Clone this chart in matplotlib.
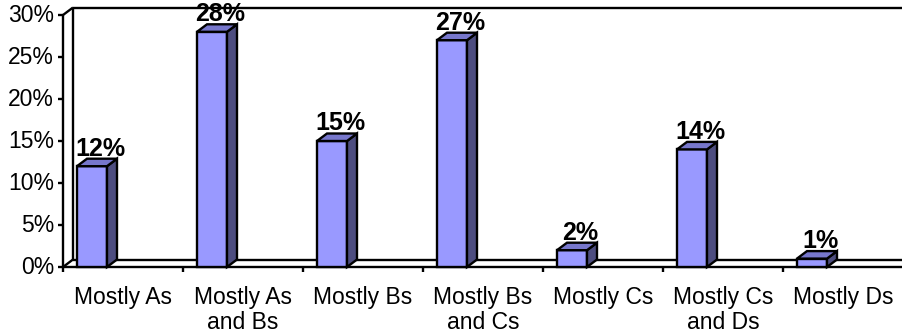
import matplotlib
matplotlib.use("Agg")
import matplotlib.pyplot as plt
from matplotlib.patches import Polygon
from matplotlib.lines import Line2D

categories = ["Mostly As", "Mostly As\nand Bs", "Mostly Bs", "Mostly Bs\nand Cs",
              "Mostly Cs", "Mostly Cs\nand Ds", "Mostly Ds"]
shares = [12, 28, 15, 27, 2, 14, 1]
y_ticks = [0, 5, 10, 15, 20, 25, 30]

plt.rcParams["font.family"] = ["Liberation Sans", "DejaVu Sans"]

W, H = 902, 335
fig = plt.figure(figsize=(W / 100, H / 100), dpi=100)
ax = fig.add_axes([63 / W, 68 / H, 840 / W, 252 / H])
n = len(categories)
ymax = y_ticks[-1]
ax.set_xlim(0, n)
ax.set_ylim(0, ymax)
ax.axis("off")

# pixel sizes expressed in data units
px_x = n / 840
px_y = ymax / 252
DX = 10 * px_x          # depth offset of the back plane
DY = 7.5 * px_y
BAR_LEFT = 0.5 - 46 * px_x
BAR_W = 30 * px_x

FRONT = "#9999FF"
TOP = "#7777CC"
SIDE = "#4D4D80"
LW = 1.7

def line(xs, ys, lw=LW, z=1):
    ax.add_line(Line2D(xs, ys, color="black", lw=lw, clip_on=False,
                       zorder=z, solid_capstyle="butt"))

far = n + 1  # lines run off the right edge

# back wall and floor
line([DX, DX], [DY, ymax + DY])
line([0, DX], [ymax, ymax + DY])
line([DX, far], [ymax + DY, ymax + DY])
line([0, DX], [0, DY])
line([DX, far], [DY, DY])
line([0, far], [0, 0], z=3)
line([0, 0], [0, ymax], z=3)

# ticks
tick_px = 5
for t in y_ticks:
    line([-tick_px * px_x, 0], [t, t], z=3)
    ax.text(-9 * px_x, t, f"{t}%", ha="right", va="center", fontsize=16.5,
            clip_on=False)
for i in range(n + 1):
    line([i, i], [0, -tick_px * px_y], z=3)

for i, lab in enumerate(categories):
    ax.text(i + 0.5, -19 * px_y, lab, ha="center", va="top", fontsize=16.5,
            linespacing=1.1, clip_on=False)

# 3D-looking columns
for i, v in enumerate(shares):
    x0 = i + BAR_LEFT
    x1 = x0 + BAR_W
    front = [(x0, 0), (x1, 0), (x1, v), (x0, v)]
    side = [(x1, 0), (x1 + DX, DY), (x1 + DX, v + DY), (x1, v)]
    top = [(x0, v), (x1, v), (x1 + DX, v + DY), (x0 + DX, v + DY)]
    for pts, col in ((front, FRONT), (side, SIDE), (top, TOP)):
        ax.add_patch(Polygon(pts, closed=True, facecolor=col, edgecolor="black",
                             lw=LW, joinstyle="miter", zorder=4, clip_on=False))
    ax.text(x0 + 23 * px_x, v + DY + 3 * px_y, f"{v}%", ha="center",
            va="baseline", fontsize=18, fontweight="bold", zorder=5,
            clip_on=False)

fig.savefig("out.png", dpi=100)
